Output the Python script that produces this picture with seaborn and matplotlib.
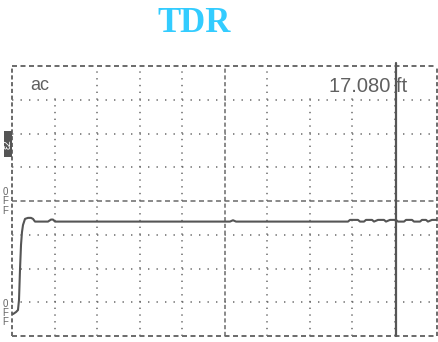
import matplotlib
matplotlib.use("Agg")
import matplotlib.pyplot as plt
import matplotlib.patches as mpatches
import seaborn as sns
import pandas as pd

# ---- data (x in screen divisions 0..10, y in divisions -4..4) ----
trace_x = [0.024, 0.094, 0.141, 0.165, 0.188, 0.212, 0.235, 0.259, 0.306, 0.376,
           0.447, 0.494, 0.541, 0.612, 0.847, 0.918, 0.965, 1.012, 5.129, 5.200,
           5.271, 7.906, 7.953, 8.141, 8.188, 8.282, 8.329, 8.471, 8.518, 8.612,
           8.753, 8.800, 8.894, 9.035, 9.082, 9.224, 9.271, 9.412, 9.459, 9.600,
           9.647, 9.741, 9.788, 9.882, 10.0]
trace_y = [-3.35, -3.29, -3.23, -2.93, -2.04, -1.30, -0.92, -0.71, -0.53, -0.50,
           -0.50, -0.53, -0.61, -0.61, -0.61, -0.55, -0.55, -0.61, -0.61, -0.57,
           -0.61, -0.61, -0.56, -0.56, -0.61, -0.61, -0.56, -0.56, -0.61, -0.56,
           -0.56, -0.61, -0.56, -0.56, -0.61, -0.61, -0.56, -0.56, -0.61, -0.61,
           -0.56, -0.56, -0.61, -0.56, -0.56]
cursor_x = 9.035
mode_label = "ac"
cursor_label = "17.080 ft"
title = "TDR"

df = pd.DataFrame({"x": trace_x, "y": trace_y})

sns.set_theme(style="white")
plt.rcParams["lines.scale_dashes"] = False
plt.rcParams["font.family"] = ["Liberation Sans", "DejaVu Sans"]

W, H = 438, 342
fig = plt.figure(figsize=(W / 100, H / 100), dpi=100)
fig.patch.set_facecolor("white")
ax = fig.add_axes([12 / W, 6 / H, 425 / W, 270 / H])
ax.set_xlim(0, 10)
ax.set_ylim(-4, 4)
ax.set_facecolor("white")
for s in ax.spines.values():
    s.set_visible(False)
ax.set_xticks([])
ax.set_yticks([])

gcol = "#6a6a6a"
dot_h = (0, (1.0, 5.12))
dot_v = (0, (1.0, 3.86))
dash_h = (0, (3.6, 2.52))
dash_v = (0, (3.0, 1.86))

# grid
for xv in range(1, 10):
    if xv == 5:
        ax.axvline(xv, color=gcol, lw=1.1, ls=dash_v)
    else:
        top = 0.9 if xv in (1, 7, 8) else 1.0
        ax.axvline(xv, ymax=top, color=gcol, lw=1.1, ls=dot_v)
for yv in range(-3, 4):
    if yv == 0:
        ax.axhline(yv, color=gcol, lw=1.1, ls=dash_h)
    else:
        ax.axhline(yv, color=gcol, lw=1.1, ls=dot_h)
# border
for yv in (-4, 4):
    ax.axhline(yv, color=gcol, lw=1.4, ls=dash_h, clip_on=False)
for xv in (0, 10):
    ax.axvline(xv, color=gcol, lw=1.4, ls=dash_v, clip_on=False)

# trace
sns.lineplot(data=df, x="x", y="y", ax=ax, color="#555555", lw=1.5,
             estimator=None, sort=False, legend=False)
ax.set_xlabel("")
ax.set_ylabel("")

# cursor
ax.axvline(cursor_x, ymin=0, ymax=1.01, color="#555555", lw=1.6, clip_on=False)

# labels
ax.text(0.42, 3.29, mode_label, color="#606060", fontsize=13,
        ha="left", va="baseline")
ax.text(9.29, 3.23, cursor_label, color="#606060", fontsize=14.5,
        ha="right", va="baseline")

# left-edge markers
fig.patches.append(mpatches.Rectangle((4 / W, 1 - 157 / H), 8 / W, 26 / H,
                                      transform=fig.transFigure,
                                      facecolor="#555555", edgecolor="none"))
fig.text(8 / W, 1 - 144 / H, "ε2", rotation=90, color="white", fontsize=7,
         ha="center", va="center")
for ypx, s in [(192, "0"), (201, "F"), (211, "F"), (304, "0"), (313, "F"), (322, "F")]:
    fig.text(5.5 / W, 1 - ypx / H, s, color="#666666", fontsize=7,
             ha="center", va="center")

fig.text(194 / W, 1 - 24 / H, title, ha="center", va="center", fontsize=25,
         weight="bold", family="Liberation Serif", color="#33CCFF")

fig.savefig("out.png", dpi=100, facecolor="white")
